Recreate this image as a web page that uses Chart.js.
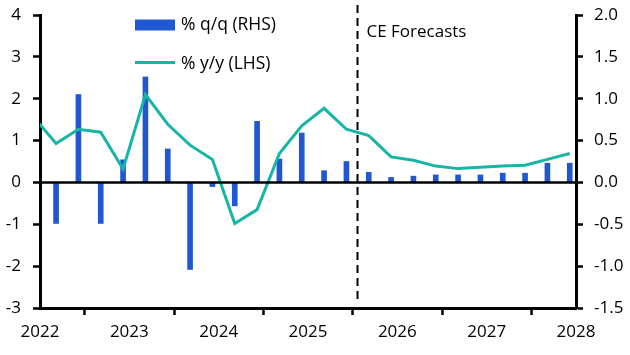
<!DOCTYPE html>
<html>
<head>
<meta charset="utf-8">
<script src="https://cdn.jsdelivr.net/npm/chart.js@4/dist/chart.umd.min.js"></script>
<style>
  html, body { margin: 0; padding: 0; background: #fff; }
  #wrap { width: 630px; height: 355px; position: relative; }
</style>
</head>
<body>
<div id="wrap"><canvas id="c" width="630" height="355"></canvas></div>
<script>
// ---- Data ----
const quarters = ['2021 Q4',
  '2022 Q1','2022 Q2','2022 Q3','2022 Q4',
  '2023 Q1','2023 Q2','2023 Q3','2023 Q4',
  '2024 Q1','2024 Q2','2024 Q3','2024 Q4',
  '2025 Q1','2025 Q2','2025 Q3','2025 Q4',
  '2026 Q1','2026 Q2','2026 Q3','2026 Q4',
  '2027 Q1','2027 Q2','2027 Q3','2027 Q4'];
const qoqRHS = [null,
  -0.49, 1.05, -0.49, 0.27,
  1.26, 0.40, -1.04, -0.05,
  -0.28, 0.73, 0.28, 0.59,
  0.14, 0.25, 0.12, 0.06,
  0.075, 0.09, 0.09, 0.09,
  0.11, 0.11, 0.23, 0.23];
const yoyLHS = [1.56,
  0.93, 1.27, 1.20, 0.32,
  2.10, 1.39, 0.89, 0.55,
  -0.98, -0.65, 0.69, 1.35,
  1.77, 1.27, 1.12, 0.61,
  0.53, 0.39, 0.33, 0.36,
  0.39, 0.41, 0.55, 0.69];
const firstForecast = '2025 Q3';
const forecastLabel = 'CE Forecasts';
const seriesLabels = ['% q/q (RHS)', '% y/y (LHS)'];
const yearMin = 2022, yearMax = 2028;
const leftMin = -3, leftMax = 4, leftStep = 1;
const rightMin = -1.5, rightMax = 2.0, rightStep = 0.5;

// ---- Helpers ----
const POINT_OFFSET = 0.18; // where within the quarter the observation is plotted
function quarterToX(lbl) {
  const [y, q] = lbl.split(' Q').map(Number);
  return y + (q - 1) * 0.25 + POINT_OFFSET;
}
const xs = quarters.map(quarterToX);
const barData = quarters.map((q, i) => ({ x: xs[i], y: qoqRHS[i] }));
const lineData = quarters.map((q, i) => ({ x: xs[i], y: yoyLHS[i] }));
const fIdx = quarters.indexOf(firstForecast);
const forecastX = (xs[fIdx] + xs[fIdx - 1]) / 2;

const FONT = "'Open Sans', sans-serif";
const BAR_COLOR = '#2158d2';
const LINE_COLOR = '#17b5a5';

const overlayPlugin = {
  id: 'overlay',
  afterDatasetsDraw(chart) {
    const ctx = chart.ctx;
    const ca = chart.chartArea;
    const y = chart.scales.y;
    const x = chart.scales.x;
    // zero line on top
    const y0 = y.getPixelForValue(0);
    ctx.save();
    ctx.strokeStyle = '#000';
    ctx.lineWidth = 2.5;
    ctx.beginPath();
    ctx.moveTo(ca.left, y0);
    ctx.lineTo(ca.right, y0);
    ctx.stroke();
    // forecast divider
    const fx = Math.round(x.getPixelForValue(forecastX)) - 0.5;
    ctx.lineWidth = 2;
    ctx.setLineDash([8, 5]);
    ctx.beginPath();
    ctx.moveTo(fx, ca.top - 10);
    ctx.lineTo(fx, ca.bottom - 9);
    ctx.stroke();
    ctx.setLineDash([]);
    ctx.fillStyle = '#000';
    ctx.font = '17px ' + FONT;
    ctx.textAlign = 'left';
    ctx.textBaseline = 'alphabetic';
    ctx.fillText(forecastLabel, fx + 9, ca.top + 22);
    // legend
    const lx = ca.left + 95;
    const ds = chart.data.datasets;
    ctx.fillStyle = ds[0].backgroundColor;
    ctx.fillRect(lx, ca.top + 4.5, 40, 11);
    ctx.strokeStyle = ds[1].borderColor;
    ctx.lineWidth = 3;
    ctx.beginPath();
    ctx.moveTo(lx, ca.top + 47.5);
    ctx.lineTo(lx + 40, ca.top + 47.5);
    ctx.stroke();
    ctx.fillStyle = '#000';
    ctx.textBaseline = 'middle';
    ctx.font = '17.5px ' + FONT;
    ctx.fillText(ds[0].label, lx + 46, ca.top + 10);
    ctx.fillText(ds[1].label, lx + 46, ca.top + 49);
    ctx.restore();
  }
};

const tickFont = { family: FONT, size: 17 };
function fixVertical(width) {
  return function (s) {
    s.width = width;
    s.paddingTop = 0;
    s.paddingBottom = 0;
  };
}

new Chart(document.getElementById('c'), {
  type: 'bar',
  data: {
    datasets: [
      {
        type: 'bar',
        label: seriesLabels[0],
        data: barData,
        xAxisID: 'x',
        yAxisID: 'y1',
        backgroundColor: BAR_COLOR,
        barThickness: 5,
        order: 2
      },
      {
        type: 'line',
        label: seriesLabels[1],
        data: lineData,
        xAxisID: 'x',
        yAxisID: 'y',
        borderColor: LINE_COLOR,
        backgroundColor: LINE_COLOR,
        borderWidth: 3,
        pointRadius: 0,
        tension: 0,
        order: 1
      }
    ]
  },
  options: {
    responsive: false,
    animation: false,
    layout: { padding: { top: 15, left: 0, right: 0, bottom: 0 } },
    plugins: { legend: { display: false }, tooltip: { enabled: false } },
    scales: {
      x: {
        type: 'linear',
        min: yearMin,
        max: yearMax,
        offset: false,
        ticks: {
          stepSize: 1,
          color: '#000',
          font: tickFont,
          padding: 7,
          maxRotation: 0,
          callback: v => String(v)
        },
        grid: { drawOnChartArea: false, tickLength: 7, tickColor: '#000', tickWidth: 2.5 },
        border: { display: true, color: '#000', width: 3 },
        afterFit(s) { s.height = 47; s.paddingLeft = 0; s.paddingRight = 0; }
      },
      y: {
        position: 'left',
        min: leftMin,
        max: leftMax,
        ticks: { stepSize: leftStep, color: '#000', font: tickFont, padding: 12 },
        grid: {
          drawOnChartArea: false,
          tickLength: 7,
          tickColor: '#000',
          tickWidth: 2.5
        },
        border: { display: true, color: '#000', width: 3 },
        afterFit: fixVertical(40)
      },
      y1: {
        position: 'right',
        min: rightMin,
        max: rightMax,
        ticks: {
          stepSize: rightStep, color: '#000', font: tickFont, padding: 11,
          callback: v => v.toFixed(1)
        },
        grid: { drawOnChartArea: false, tickLength: 7, tickColor: '#000', tickWidth: 2.5 },
        border: { display: true, color: '#000', width: 3 },
        afterFit: fixVertical(54)
      }
    }
  },
  plugins: [overlayPlugin]
});
</script>
</body>
</html>
